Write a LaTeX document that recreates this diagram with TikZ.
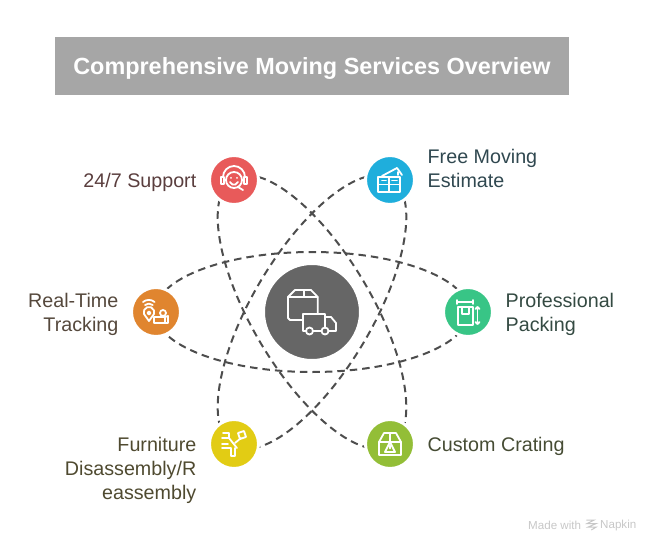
\documentclass[tikz,border=0pt]{standalone}
\usepackage{fontspec}
\setmainfont{Liberation Sans}
\usetikzlibrary{positioning}
\definecolor{titlegray}{HTML}{A6A6A6}
\definecolor{hubgray}{HTML}{666666}
\definecolor{orbitgray}{HTML}{4D4D4D}
\definecolor{supportred}{HTML}{E85A5A}
\definecolor{estimateblue}{HTML}{1FAEDC}
\definecolor{packinggreen}{HTML}{38C586}
\definecolor{cratinglime}{HTML}{93BE37}
\definecolor{furnitureyellow}{HTML}{E2CC14}
\definecolor{trackingorange}{HTML}{E0852F}
\definecolor{supporttext}{HTML}{5A3E3E}
\definecolor{estimatetext}{HTML}{304850}
\definecolor{trackingtext}{HTML}{55483C}
\definecolor{packingtext}{HTML}{344A42}
\definecolor{furnituretext}{HTML}{4F4A30}
\definecolor{cratingtext}{HTML}{464C34}
\tikzset{
	x=1pt,y=1pt,
	service/.style={circle,draw=white,line width=3pt,minimum size=49pt,inner sep=0pt,outer sep=0pt},
	hub/.style={circle,draw=white,line width=3pt,fill=hubgray,minimum size=97pt,inner sep=0pt},
	orbit/.style={draw=orbitgray,line width=2pt,dash pattern=on 7.5pt off 5pt},
	tag/.style={inner sep=0pt,yshift=-2pt,font=\fontsize{19.7}{24}\selectfont},
	credit/.style={inner sep=0pt,text=black!22,anchor=west,font=\fontsize{11.6}{13}\selectfont},
	iconline/.style={draw=white,line width=1.8pt,line cap=round,line join=round},
}
\begin{document}
\begin{tikzpicture}
	\useasboundingbox (-312,-240) rectangle (348,312);
	\node[fill=titlegray,minimum width=514pt,minimum height=58pt,inner sep=0pt,text=white,text height=17pt,text depth=0pt,font=\fontsize{23.4}{28}\selectfont\bfseries] (title) at (0,246) {Comprehensive Moving Services Overview};
	\coordinate (core) at (0,0);
	% the three orbits
	\draw[orbit] (core) ellipse [x radius=157,y radius=60];
	\draw[orbit] (core) ellipse [x radius=155,y radius=60,rotate=59.4];
	\draw[orbit] (core) ellipse [x radius=155,y radius=60,rotate=120.6];
	\node[hub] (truckhub) at (core) {};
	\node[service,fill=supportred] (support) at (-78,132) {};
	\node[service,fill=estimateblue] (estimate) at (78,132) {};
	\node[service,fill=trackingorange] (tracking) at (-156,0) {};
	\node[service,fill=packinggreen] (packing) at (156,0) {};
	\node[service,fill=furnitureyellow] (furniture) at (-78,-132) {};
	\node[service,fill=cratinglime] (crating) at (78,-132) {};
	% labels
	\node[tag,text=supporttext,left=13pt of support] (supportlabel) {24/7 Support};
	\node[tag,text=estimatetext,align=left,right=13pt of estimate,yshift=14pt] (estimatelabel) {Free Moving\\Estimate};
	\node[tag,text=trackingtext,align=right,left=13pt of tracking] (trackinglabel) {Real-Time\\Tracking};
	\node[tag,text=packingtext,align=left,right=13pt of packing] (packinglabel) {Professional\\Packing};
	\node[tag,text=furnituretext,align=right,left=13pt of furniture,yshift=-24pt] (furniturelabel) {Furniture\\Disassembly/R\\eassembly};
	\node[tag,text=cratingtext,right=13pt of crating] (cratinglabel) {Custom Crating};
	\node[credit] (madewith) at (216,-213) {Made with};
	\node[credit] (napkin) at (288,-213) {Napkin};
	% icons
	\begin{scope}[shift={(truckhub.center)}]
		\draw[iconline] (5.7,-1) -- (5.7,15) -- (-1,22) -- (-17,22) -- (-24,15) -- (-24,-6) -- (-22,-8) -- (-10,-8);
		\draw[iconline] (-24,15) -- (5.7,15);
		\draw[iconline] (-8,22) -- (-8,15);
		\draw[iconline] (-6,-19) -- (-9.3,-19) -- (-9.3,-2.3) -- (13,-2.3) -- (13,-16);
		\draw[iconline] (1,-19) -- (9.5,-19);
		\draw[iconline] (13,-5) -- (19,-5) -- (24,-11) -- (24,-19) -- (16.5,-19);
		\draw[iconline] (-2.5,-19) circle (3.5);
		\draw[iconline] (13,-19) circle (3.5);
	\end{scope}
	\begin{scope}[shift={(support.center)}]
		\draw[iconline] (0,0) circle (8);
		\draw[iconline] (-11,3) arc (180:0:11);
		\draw[iconline] (-13,-4) rectangle (-10,3);
		\draw[iconline] (10,-4) rectangle (13,3);
		\draw[iconline] (-4,-2) arc (200:340:4.2);
		\draw[iconline] (-3,2) -- (-3,2.2);
		\draw[iconline] (3,2) -- (3,2.2);
		\draw[iconline] (4,-7) -- (9,-10);
	\end{scope}
	\begin{scope}[shift={(estimate.center)}]
		\draw[iconline] (-11.7,3.3) rectangle (10,-12);
		\draw[iconline] (-1,3.3) -- (-1,-12);
		\draw[iconline] (-11.7,-4.5) -- (10,-4.5);
		\draw[iconline] (-8,4) -- (7,12) -- (12,5);
		\draw[iconline] (8,5) -- (8,8);
		\draw[iconline] (-8,-.5) -- (-4,-.5);
		\draw[iconline] (2,-.5) -- (7,-.5);
	\end{scope}
	\begin{scope}[shift={(tracking.center)}]
		\draw[iconline] (-7,-9) -- (-12,-2) arc (200:-20:5.3) -- cycle;
		\draw[iconline] (-7,-1) circle (1.5);
		\draw[iconline] (-11,7) arc (130:50:6);
		\draw[iconline] (-13,10) arc (130:50:9);
		\draw[iconline] (7,-1) circle (3);
		\draw[iconline] (-2,-11) rectangle (9,-5);
		\draw[iconline] (9,-5) -- (12,-4) -- (12,-11) -- (9,-11);
	\end{scope}
	\begin{scope}[shift={(packing.center)}]
		\draw[iconline] (-10,5) rectangle (5,-13);
		\draw[iconline] (-6,5) -- (-6,-2) -- (1,-2) -- (1,5);
		\draw[iconline] (-11,10) -- (5,10);
		\draw[iconline] (-11,8) -- (-11,12);
		\draw[iconline] (5,8) -- (5,12);
		\draw[iconline] (9.5,5) -- (9.5,-12);
		\draw[iconline] (7.5,3) -- (9.5,5) -- (11.5,3);
		\draw[iconline] (7.5,-10) -- (9.5,-12) -- (11.5,-10);
	\end{scope}
	\begin{scope}[shift={(furniture.center)}]
		\draw[iconline] (-11,11) -- (-5,11) -- (-5,6) -- (-12,6);
		\draw[iconline] (-5,6) -- (3,-4);
		\draw[iconline] (-12,-4) -- (-3,-4) -- (-3,-12) -- (1,-12) -- (1,-4);
		\draw[iconline] (-12,0) -- (-6,0);
		\draw[iconline] (4,11) -- (10,13) -- (12,7) -- (6,5) -- cycle;
		\draw[iconline] (7,6) -- (1,1);
	\end{scope}
	\begin{scope}[shift={(crating.center)}]
		\draw[iconline] (-11,2) -- (-11,-11) -- (11,-11) -- (11,2) -- cycle;
		\draw[iconline] (-11,2) -- (-6,11) -- (6,11) -- (11,2);
		\draw[iconline] (0,11) -- (0,2);
		\draw[iconline] (0,2) -- (-5,-8) -- (5,-8) -- cycle;
		\draw[iconline] (0,-1.5) -- (0,-4.5);
	\end{scope}
	\begin{scope}[shift={(madewith.east)},xshift=5pt]
		\draw[draw=black!22,line width=1pt] (0,5) -- (8,5) -- (1,1.5) -- (10,1.5) -- (2,-2) -- (10,-2) -- (5,-5);
	\end{scope}
\end{tikzpicture}
\end{document}
